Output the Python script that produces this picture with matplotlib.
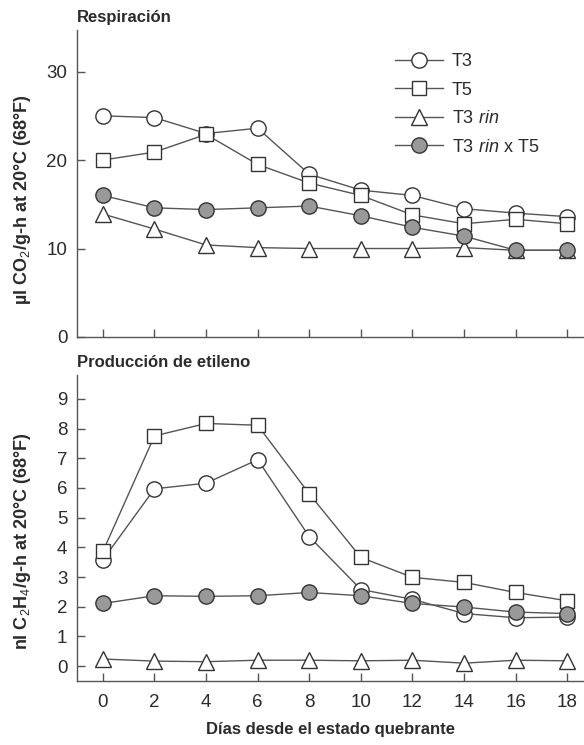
import matplotlib
matplotlib.use("Agg")
import matplotlib.pyplot as plt
from matplotlib.lines import Line2D

FONT = "Liberation Sans"
plt.rcParams["font.family"] = [FONT, "DejaVu Sans"]
plt.rcParams["mathtext.fontset"] = "custom"
plt.rcParams["mathtext.rm"] = FONT
plt.rcParams["mathtext.it"] = FONT + ":italic"
plt.rcParams["mathtext.bf"] = FONT + ":bold"

days = [0, 2, 4, 6, 8, 10, 12, 14, 16, 18]
series_names = ["T3", "T5", "T3 rin", "T3 rin x T5"]
legend_labels = ["T3", "T5", r"T3 $\it{rin}$", r"T3 $\it{rin}$ x T5"]

resp_T3 = [25.0, 24.8, 23.0, 23.6, 18.4, 16.6, 16.0, 14.5, 14.0, 13.6]
resp_T5 = [20.0, 20.9, 22.9, 19.5, 17.4, 16.0, 13.8, 12.8, 13.3, 12.8]
resp_rin = [13.9, 12.2, 10.4, 10.1, 10.0, 10.0, 10.0, 10.1, 9.8, 9.8]
resp_rinT5 = [16.0, 14.6, 14.4, 14.6, 14.8, 13.7, 12.4, 11.4, 9.8, 9.8]

eth_T3 = [3.58, 5.97, 6.16, 6.95, 4.36, 2.58, 2.25, 1.77, 1.63, 1.65]
eth_T5 = [3.86, 7.75, 8.17, 8.11, 5.80, 3.66, 2.99, 2.82, 2.48, 2.20]
eth_rin = [0.24, 0.17, 0.15, 0.20, 0.20, 0.18, 0.20, 0.10, 0.20, 0.18]
eth_rinT5 = [2.11, 2.37, 2.35, 2.37, 2.48, 2.37, 2.11, 1.99, 1.82, 1.77]

resp_ticks = [0, 10, 20, 30]
eth_ticks = [0, 1, 2, 3, 4, 5, 6, 7, 8, 9]
x_ticks = [0, 2, 4, 6, 8, 10, 12, 14, 16, 18]

TXT = "#2b2b2b"
LINE = "#555555"
GRAY = "#999999"
styles = [
    dict(marker="o", mfc="white", ms=11),
    dict(marker="s", mfc="white", ms=10.5),
    dict(marker="^", mfc="white", ms=11.5),
    dict(marker="o", mfc=GRAY, ms=11),
]

fig = plt.figure(figsize=(5.84, 7.45), dpi=100)
ax1 = fig.add_axes([0.132, 0.5477, 0.868, 0.412])
ax2 = fig.add_axes([0.132, 0.0859, 0.868, 0.4107])

def style(ax):
    for s in ["top", "right"]:
        ax.spines[s].set_visible(False)
    for s in ["left", "bottom"]:
        ax.spines[s].set_color("#555555")
        ax.spines[s].set_linewidth(1.0)
    ax.tick_params(direction="in", length=6, width=1, color="#555555",
                   labelsize=13.5, labelcolor=TXT)
    ax.tick_params(axis="x", pad=9)
    ax.tick_params(axis="y", pad=7)
    ax.set_xlim(-1, 18.65)
    ax.set_xticks(x_ticks)

for ax, data in [(ax1, [resp_T3, resp_T5, resp_rin, resp_rinT5]),
                 (ax2, [eth_T3, eth_T5, eth_rin, eth_rinT5])]:
    order = [2, 3, 1, 0]
    for i in order:
        st = styles[i]
        ax.plot(days, data[i], color=LINE, lw=1.0, marker=st["marker"],
                mfc=st["mfc"], mec="#333333", mew=1.0, ms=st["ms"], zorder=3 + i)
    style(ax)

ax1.set_ylim(0, 34.7)
ax1.set_yticks(resp_ticks)
ax1.tick_params(axis="x", labelbottom=False)
ax2.set_ylim(-0.5, 9.8)
ax2.set_yticks(eth_ticks)

ax1.set_ylabel(r"µl CO$_2$/g-h at 20°C (68°F)", fontsize=13, fontweight="bold",
               color=TXT)
ax2.set_ylabel(r"nl C$_2$H$_4$/g-h at 20°C (68°F)", fontsize=13, fontweight="bold",
               color=TXT)
ax1.yaxis.set_label_coords(-0.087, 0.446)
ax2.yaxis.set_label_coords(-0.087, 0.457)
ax2.set_xlabel("Días desde el estado quebrante", fontsize=12, fontweight="bold",
               color=TXT, labelpad=8)

fig.text(0.132, 0.976, "Respiración", fontsize=12, fontweight="bold",
         color=TXT, ha="left", va="center")
fig.text(0.132, 0.513, "Producción de etileno", fontsize=12, fontweight="bold",
         color=TXT, ha="left", va="center")

handles = []
for i in range(4):
    st = styles[i]
    handles.append(Line2D([], [], color=LINE, lw=1.0, marker=st["marker"], mfc=st["mfc"],
                          mec="#333333", mew=1.0, ms=st["ms"]))
leg = ax1.legend(handles, legend_labels, loc="upper left", bbox_to_anchor=(0.627, 0.925),
                 frameon=False, fontsize=13, handlelength=2.66, labelspacing=0.64,
                 handletextpad=0.5, borderaxespad=0, borderpad=0)
for t in leg.get_texts():
    t.set_color(TXT)

fig.savefig("out.png", dpi=100)
